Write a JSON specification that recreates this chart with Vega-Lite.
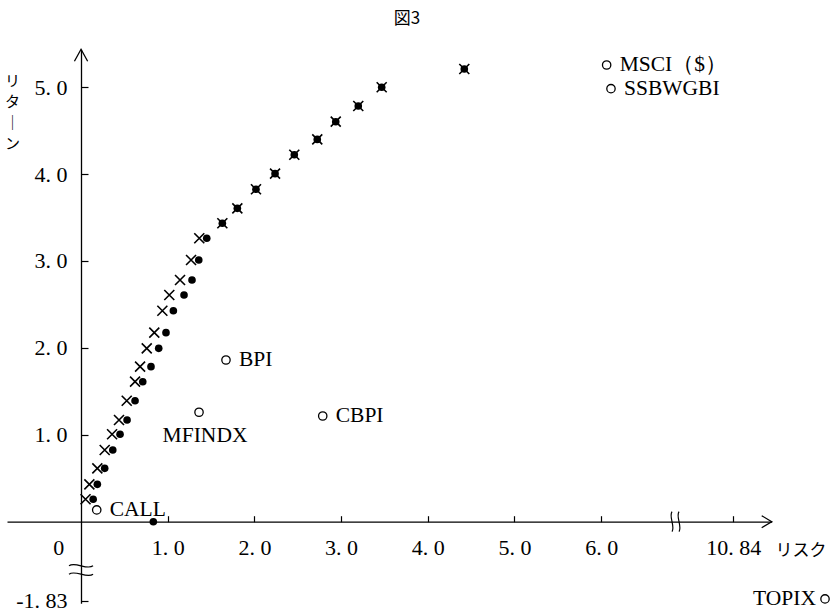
{
  "$schema": "https://vega.github.io/schema/vega-lite/v6.json",
  "width": 834,
  "height": 615,
  "autosize": {"type": "none"},
  "padding": 0,
  "background": "white",
  "config": {"view": {"stroke": null}, "font": "Liberation Serif"},
  "title": {"text": "図3", "font": "Noto Sans CJK JP", "fontSize": 17, "fontWeight": "normal", "anchor": "middle", "frame": "group", "offset": -45, "dx": -10, "baseline": "bottom", "color": "#000"},
  "datasets": {
    "crosses": [
      {"risk": 0.052, "ret": 0.258}, {"risk": 0.096, "ret": 0.430}, {"risk": 0.188, "ret": 0.614},
      {"risk": 0.273, "ret": 0.825}, {"risk": 0.358, "ret": 1.006}, {"risk": 0.438, "ret": 1.170},
      {"risk": 0.527, "ret": 1.392}, {"risk": 0.623, "ret": 1.611}, {"risk": 0.681, "ret": 1.784},
      {"risk": 0.758, "ret": 1.995}, {"risk": 0.845, "ret": 2.175}, {"risk": 0.938, "ret": 2.428},
      {"risk": 1.018, "ret": 2.609}, {"risk": 1.142, "ret": 2.781}, {"risk": 1.269, "ret": 3.012},
      {"risk": 1.364, "ret": 3.262}, {"risk": 1.630, "ret": 3.434}, {"risk": 1.803, "ret": 3.606},
      {"risk": 2.018, "ret": 3.825}, {"risk": 2.238, "ret": 4.005}, {"risk": 2.460, "ret": 4.222},
      {"risk": 2.725, "ret": 4.399}, {"risk": 2.938, "ret": 4.603}, {"risk": 3.198, "ret": 4.784},
      {"risk": 3.468, "ret": 4.999}, {"risk": 4.421, "ret": 5.209}
    ],
    "dots": [
      {"risk": 0.140, "ret": 0.258}, {"risk": 0.188, "ret": 0.430}, {"risk": 0.273, "ret": 0.614},
      {"risk": 0.366, "ret": 0.825}, {"risk": 0.450, "ret": 1.006}, {"risk": 0.531, "ret": 1.170},
      {"risk": 0.623, "ret": 1.392}, {"risk": 0.712, "ret": 1.611}, {"risk": 0.807, "ret": 1.784},
      {"risk": 0.896, "ret": 1.995}, {"risk": 0.980, "ret": 2.175}, {"risk": 1.065, "ret": 2.428},
      {"risk": 1.188, "ret": 2.609}, {"risk": 1.280, "ret": 2.781}, {"risk": 1.358, "ret": 3.012},
      {"risk": 1.450, "ret": 3.262}, {"risk": 1.630, "ret": 3.434}, {"risk": 1.803, "ret": 3.606},
      {"risk": 2.018, "ret": 3.825}, {"risk": 2.238, "ret": 4.005}, {"risk": 2.460, "ret": 4.222},
      {"risk": 2.725, "ret": 4.399}, {"risk": 2.938, "ret": 4.603}, {"risk": 3.198, "ret": 4.784},
      {"risk": 3.468, "ret": 4.999}, {"risk": 4.421, "ret": 5.209}, {"risk": 0.834, "ret": 0.0}
    ],
    "indices": [
      {"name": "CALL", "risk": 0.181, "ret": 0.135},
      {"name": "MFINDX", "risk": 1.361, "ret": 1.259},
      {"name": "BPI", "risk": 1.672, "ret": 1.861},
      {"name": "CBPI", "risk": 2.788, "ret": 1.216},
      {"name": "MSCI（$）", "risk": 6.063, "ret": 5.255},
      {"name": "SSBWGBI", "risk": 6.113, "ret": 4.983},
      {"name": "TOPIX", "risk": 11.898, "ret": -1.81}
    ],
    "xArrow": [{"risk": 11.283, "ret": 0}],
    "yArrow": [{"risk": 0, "ret": 5.436}],
    "xBreak": [{"risk": 6.863, "ret": 0}],
    "yBreak": [{"risk": 0, "ret": -1.0}]
  },
  "encoding": {
    "x": {
      "field": "risk", "type": "quantitative",
      "scale": {"domain": [-0.854, 6.863, 10.179, 11.283], "range": [7, 676, 676, 771.7], "nice": false, "zero": false},
      "axis": {
        "orient": "bottom", "offset": -93.3, "grid": false,
        "values": [0, 1, 2, 3, 4, 5, 6, 10.84],
        "labelExpr": "datum.value == 0 ? '0' : datum.value == 10.84 ? '10. 84' : replace(format(datum.value, '.1f'), '.', '. ')",
        "labelFont": "Liberation Serif", "labelFontSize": 22, "labelColor": "#000",
        "labelOverlap": false, "labelFlush": false, "labelBound": false,
        "labelBaseline": "top", "labelPadding": 22,
        "labelOffset": {"condition": {"test": "datum.value == 0", "value": -22.7}, "value": 0},
        "tickSize": -6, "tickColor": "#000", "tickWidth": 1.2,
        "tickOpacity": {"condition": {"test": "datum.value == 0", "value": 0}, "value": 1},
        "domainColor": "#000", "domainWidth": 1.3,
        "title": "リスク", "titleFont": "Noto Sans CJK JP", "titleFontSize": 17, "titleFontWeight": "normal", "titleColor": "#000",
        "titleX": 775, "titleY": 33.5, "titleAlign": "left", "titleBaseline": "alphabetic", "titleAngle": 0
      }
    },
    "y": {
      "field": "ret", "type": "quantitative",
      "scale": {"domain": [-1.86, -1.477, -0.556, 5.436], "range": [603.3, 570, 570, 49.3], "nice": false, "zero": false},
      "axis": {
        "orient": "left", "offset": -81, "grid": false,
        "values": [-1.83, 1, 2, 3, 4, 5],
        "labelExpr": "datum.value == -1.83 ? '-1. 83' : replace(format(datum.value, '.1f'), '.', '. ')",
        "labelFont": "Liberation Serif", "labelFontSize": 22, "labelColor": "#000",
        "labelOverlap": false, "labelFlush": false, "labelBound": false,
        "labelBaseline": "middle", "labelAlign": "right", "labelPadding": 21,
        "tickSize": -7, "tickColor": "#000", "tickWidth": 1.2,
        "domainColor": "#000", "domainWidth": 1.3,
        "title": ["リ", "タ", "｜", "ン"], "titleFont": "Noto Sans CJK JP", "titleFontSize": 15, "titleFontWeight": "normal", "titleColor": "#000",
        "titleX": -69, "titleY": 73, "titleAlign": "center", "titleBaseline": "top", "titleAngle": 0, "titleLineHeight": 21
      }
    }
  },
  "layer": [
    {
      "data": {"name": "dots"},
      "mark": {"type": "point", "shape": "circle", "filled": true, "fill": "#000", "size": 58, "opacity": 1}
    },
    {
      "data": {"name": "crosses"},
      "mark": {"type": "point", "shape": "M-1,-1L1,1M-1,1L1,-1", "filled": false, "stroke": "#000", "strokeWidth": 1.6, "size": 100, "opacity": 1}
    },
    {
      "data": {"name": "indices"},
      "mark": {"type": "point", "shape": "circle", "filled": false, "stroke": "#000", "strokeWidth": 1.3, "size": 70, "opacity": 1}
    },
    {
      "data": {"name": "indices"},
      "transform": [{"filter": "datum.name != 'MFINDX' && datum.name != 'TOPIX'"}],
      "mark": {"type": "text", "align": "left", "baseline": "middle", "dx": 13, "font": "Liberation Serif", "fontSize": 21.5, "color": "#000"},
      "encoding": {"text": {"field": "name"}}
    },
    {
      "data": {"name": "indices"},
      "transform": [{"filter": "datum.name == 'MFINDX'"}],
      "mark": {"type": "text", "align": "center", "baseline": "middle", "dx": 6, "dy": 23.5, "font": "Liberation Serif", "fontSize": 21.5, "color": "#000"},
      "encoding": {"text": {"field": "name"}}
    },
    {
      "data": {"name": "indices"},
      "transform": [{"filter": "datum.name == 'TOPIX'"}],
      "mark": {"type": "text", "align": "right", "baseline": "middle", "dx": -9, "font": "Liberation Serif", "fontSize": 21.5, "color": "#000"},
      "encoding": {"text": {"field": "name"}}
    },
    {
      "data": {"name": "xArrow"},
      "mark": {"type": "point", "shape": "M-1,-0.6L0,0L-1,0.6", "filled": false, "stroke": "#000", "strokeWidth": 1.3, "size": 400, "opacity": 1}
    },
    {
      "data": {"name": "yArrow"},
      "mark": {"type": "point", "shape": "M-0.55,1L0,0L0.55,1", "filled": false, "stroke": "#000", "strokeWidth": 1.3, "size": 576, "opacity": 1}
    },
    {
      "data": {"name": "xBreak"},
      "mark": {"type": "point", "shape": "M-0.4,-1C-0.75,-0.5 -0.05,0.5 -0.4,1M0.3,-1C-0.05,-0.5 0.65,0.5 0.3,1", "filled": false, "stroke": "#000", "strokeWidth": 1.2, "size": 400, "opacity": 1}
    },
    {
      "data": {"name": "yBreak"},
      "mark": {"type": "point", "shape": "M-1,-0.35C-0.5,-0.75 0.5,0.05 1,-0.35M-1,0.35C-0.5,-0.05 0.5,0.75 1,0.35", "filled": false, "stroke": "#000", "strokeWidth": 1.2, "size": 576, "opacity": 1}
    }
  ]
}
